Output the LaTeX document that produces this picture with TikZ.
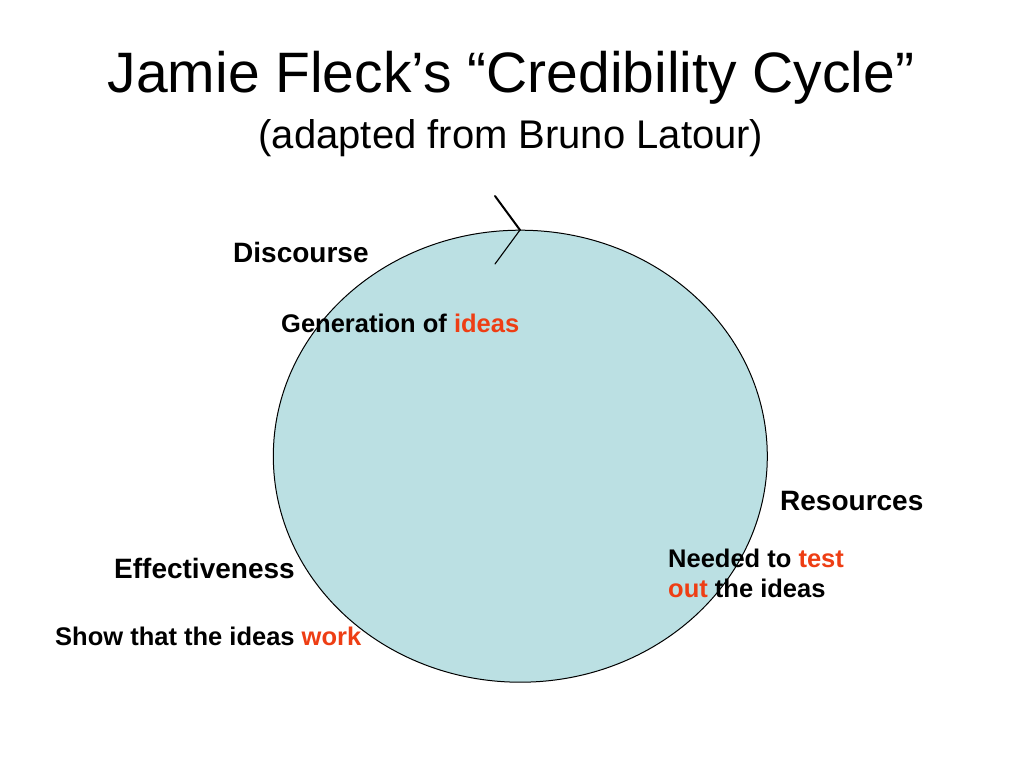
\documentclass[tikz,border=0pt]{standalone}
\usepackage{fontspec}
\setmainfont{Liberation Sans}
\definecolor{cyclefill}{RGB}{187,224,227}
\definecolor{hot}{RGB}{238,62,20}
\tikzset{
  title/.style={anchor=base, inner sep=0pt, font=\fontsize{57}{68}\selectfont},
  subtitle/.style={anchor=base, inner sep=0pt, font=\fontsize{40}{48}\selectfont},
  head/.style={anchor=base west, inner sep=0pt, font=\fontsize{28}{34}\selectfont\bfseries},
  body/.style={anchor=base west, inner sep=0pt, align=left, font=\fontsize{25.5}{30}\selectfont\bfseries},
  cyc/.style={draw=black, line width=1pt, fill=cyclefill},
  tick/.style={draw=black, line cap=round}
}
\newcommand{\hl}[1]{\textcolor{hot}{#1}}
\begin{document}
\begin{tikzpicture}[x=1pt,y=-1pt]
\useasboundingbox (0,0) rectangle (1024,768);
\fill[white] (0,0) rectangle (1024,768);
\node[title] (t) at (511,92) {Jamie Fleck’s “Credibility Cycle”};
\node[subtitle] (st) at (511,148) {(adapted from Bruno Latour)};
\path[cyc] (520.3,456.2) ellipse [x radius=247, y radius=226];
\coordinate (apex) at (520,230);
\coordinate (up) at (495,196);
\coordinate (lo) at (495,264);
\draw[tick, line width=2pt] (up) -- (apex);
\draw[tick, line width=1.1pt] (apex) -- (lo);
\node[head] (disc) at (233,262) {Discourse};
\node[body] (gen) at (281,332) {Generation of \hl{ideas}};
\node[head] (res) at (780,510) {Resources};
\node[body] (need1) at (668,567) {Needed to \hl{test}};
\node[body] (need2) at (668,597) {\hl{out} the ideas};
\node[head] (eff) at (114,578) {Effectiveness};
\node[body] (show) at (55,645) {Show that the ideas \hl{work}};
\end{tikzpicture}
\end{document}
